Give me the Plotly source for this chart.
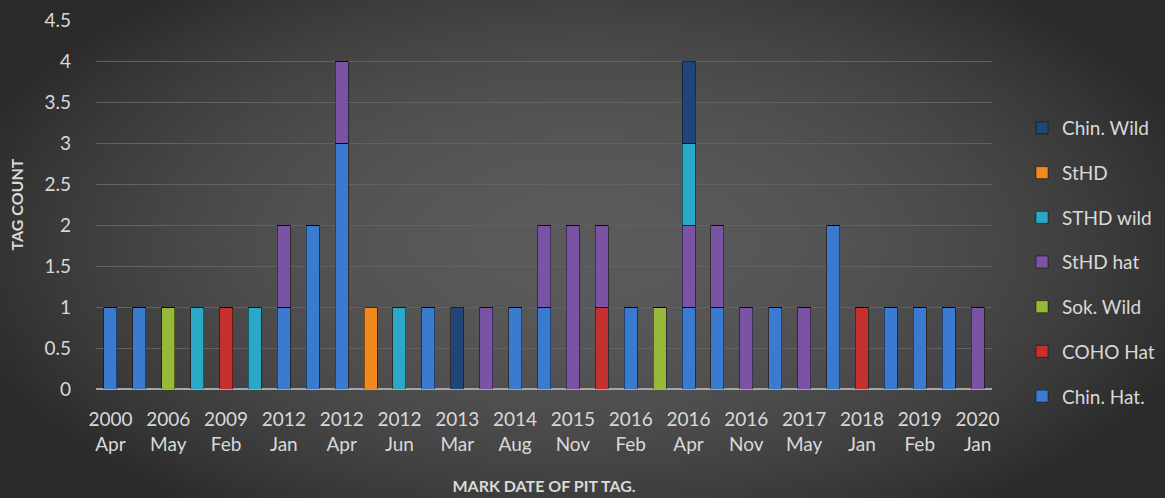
import base64
import struct
import zlib

import plotly.graph_objects as go

# ---------------- data ----------------
bar_index = list(range(31))
tick_labels = ["2000<br>Apr", "2006<br>May", "2009<br>Feb", "2012<br>Jan", "2012<br>Apr",
               "2012<br>Jun", "2013<br>Mar", "2014<br>Aug", "2015<br>Nov", "2016<br>Feb",
               "2016<br>Apr", "2016<br>Nov", "2017<br>May", "2018<br>Jan", "2019<br>Feb",
               "2020<br>Jan"]
tick_positions = bar_index[::2]

chin_hat = [1, 1, 0, 0, 0, 0, 1, 2, 3, 0, 0, 1, 0, 0, 1, 1, 0, 0, 1, 0, 1, 1, 0, 1, 0, 2, 0, 1, 1, 1, 0]
coho_hat = [0, 0, 0, 0, 1, 0, 0, 0, 0, 0, 0, 0, 0, 0, 0, 0, 0, 1, 0, 0, 0, 0, 0, 0, 0, 0, 1, 0, 0, 0, 0]
sok_wild = [0, 0, 1, 0, 0, 0, 0, 0, 0, 0, 0, 0, 0, 0, 0, 0, 0, 0, 0, 1, 0, 0, 0, 0, 0, 0, 0, 0, 0, 0, 0]
sthd_hat = [0, 0, 0, 0, 0, 0, 1, 0, 1, 0, 0, 0, 0, 1, 0, 1, 2, 1, 0, 0, 1, 1, 1, 0, 1, 0, 0, 0, 0, 0, 1]
sthd_wild = [0, 0, 0, 1, 0, 1, 0, 0, 0, 0, 1, 0, 0, 0, 0, 0, 0, 0, 0, 0, 1, 0, 0, 0, 0, 0, 0, 0, 0, 0, 0]
sthd = [0, 0, 0, 0, 0, 0, 0, 0, 0, 1, 0, 0, 0, 0, 0, 0, 0, 0, 0, 0, 0, 0, 0, 0, 0, 0, 0, 0, 0, 0, 0]
chin_wild = [0, 0, 0, 0, 0, 0, 0, 0, 0, 0, 0, 0, 1, 0, 0, 0, 0, 0, 0, 0, 1, 0, 0, 0, 0, 0, 0, 0, 0, 0, 0]

series_names = ["Chin. Hat.", "COHO Hat", "Sok. Wild", "StHD hat", "STHD wild", "StHD", "Chin. Wild"]
series_values = [chin_hat, coho_hat, sok_wild, sthd_hat, sthd_wild, sthd, chin_wild]
series_colors = ["#3a7bcf", "#c4302e", "#97b93a", "#7a53a5", "#2aa9c6", "#ef8a1f", "#1f4676"]

# ---------------- background (radial gradient image) ----------------
W, H = 1165, 498
ML, MR, MT, MB = 96, 173, 20, 109


def radial_png(w, h, cx, cy, rx, ry, c_in, c_out):
    raw = bytearray()
    for j in range(h):
        raw.append(0)
        for i in range(w):
            dx = (i - cx) / rx
            dy = (j - cy) / ry
            t = min(1.0, dx * dx + dy * dy)
            v = int(round(c_in + (c_out - c_in) * t))
            raw.extend((v, v, v))

    def chunk(tag, data):
        c = struct.pack(">I", len(data)) + tag + data
        return c + struct.pack(">I", zlib.crc32(tag + data) & 0xFFFFFFFF)

    png = b"\x89PNG\r\n\x1a\n"
    png += chunk(b"IHDR", struct.pack(">IIBBBBB", w, h, 8, 2, 0, 0, 0))
    png += chunk(b"IDAT", zlib.compress(bytes(raw), 9))
    png += chunk(b"IEND", b"")
    return "data:image/png;base64," + base64.b64encode(png).decode()


S = 5
bg = radial_png(W // S, H // S, 582 / S, 240 / S, 650 / S, 330 / S, 90, 42)

# ---------------- figure ----------------
fig = go.Figure()
n = len(series_names)
for k, (name, vals, col) in enumerate(zip(series_names, series_values, series_colors)):
    fig.add_trace(go.Bar(
        x=bar_index, y=vals, name=name, legendgroup=name, legendrank=n - k,
        marker=dict(color=col, line=dict(color="rgba(0,0,0,0.45)", width=1)),
    ))

font_family = "Lato, 'Open Sans', sans-serif"
txt = "#d9d9d9"
pw = W - ML - MR
ph = H - MT - MB

fig.update_layout(
    width=W, height=H,
    barmode="stack", bargap=0.55,
    margin=dict(l=ML, r=MR, t=MT, b=MB, autoexpand=False),
    paper_bgcolor="#3a3a3a", plot_bgcolor="rgba(0,0,0,0)",
    font=dict(family=font_family, color=txt, size=19),
    images=[dict(source=bg, xref="paper", yref="paper",
                 x=-ML / pw, y=1 + MT / ph, sizex=W / pw, sizey=H / ph,
                 xanchor="left", yanchor="top", sizing="stretch", layer="below")],
    xaxis=dict(
        range=[-0.5, 30.5], tickmode="array", tickvals=tick_positions, ticktext=tick_labels,
        showgrid=False, zeroline=False, showline=False, ticks="", ticklabelstandoff=17,
        automargin=False,
        tickfont=dict(size=19, color=txt),
        title=dict(text="<b>MARK DATE OF PIT TAG.</b>", font=dict(size=16, color=txt), standoff=27),
    ),
    yaxis=dict(
        range=[0, 4.5], dtick=0.5, tickformat="~g",
        showgrid=True, gridcolor="#626262", gridwidth=1,
        zeroline=True, zerolinecolor="#a6a6a6", zerolinewidth=2,
        showline=False, ticks="", ticklabelstandoff=24, automargin=False,
        tickfont=dict(size=19, color=txt),
        title=dict(text="<b>TAG COUNT</b>", font=dict(size=16, color=txt), standoff=16),
    ),
    legend=dict(
        xref="container", x=1022 / W, xanchor="left", y=0.344, yanchor="middle",
        traceorder="grouped", tracegroupgap=17,
        font=dict(size=19, color=txt), bgcolor="rgba(0,0,0,0)",
        itemwidth=30,
    ),
    showlegend=True,
)

fig.write_html("out.html", config={"displayModeBar": False},
               post_script="document.body.style.margin='0';document.body.style.background='#2a2a2a';")
